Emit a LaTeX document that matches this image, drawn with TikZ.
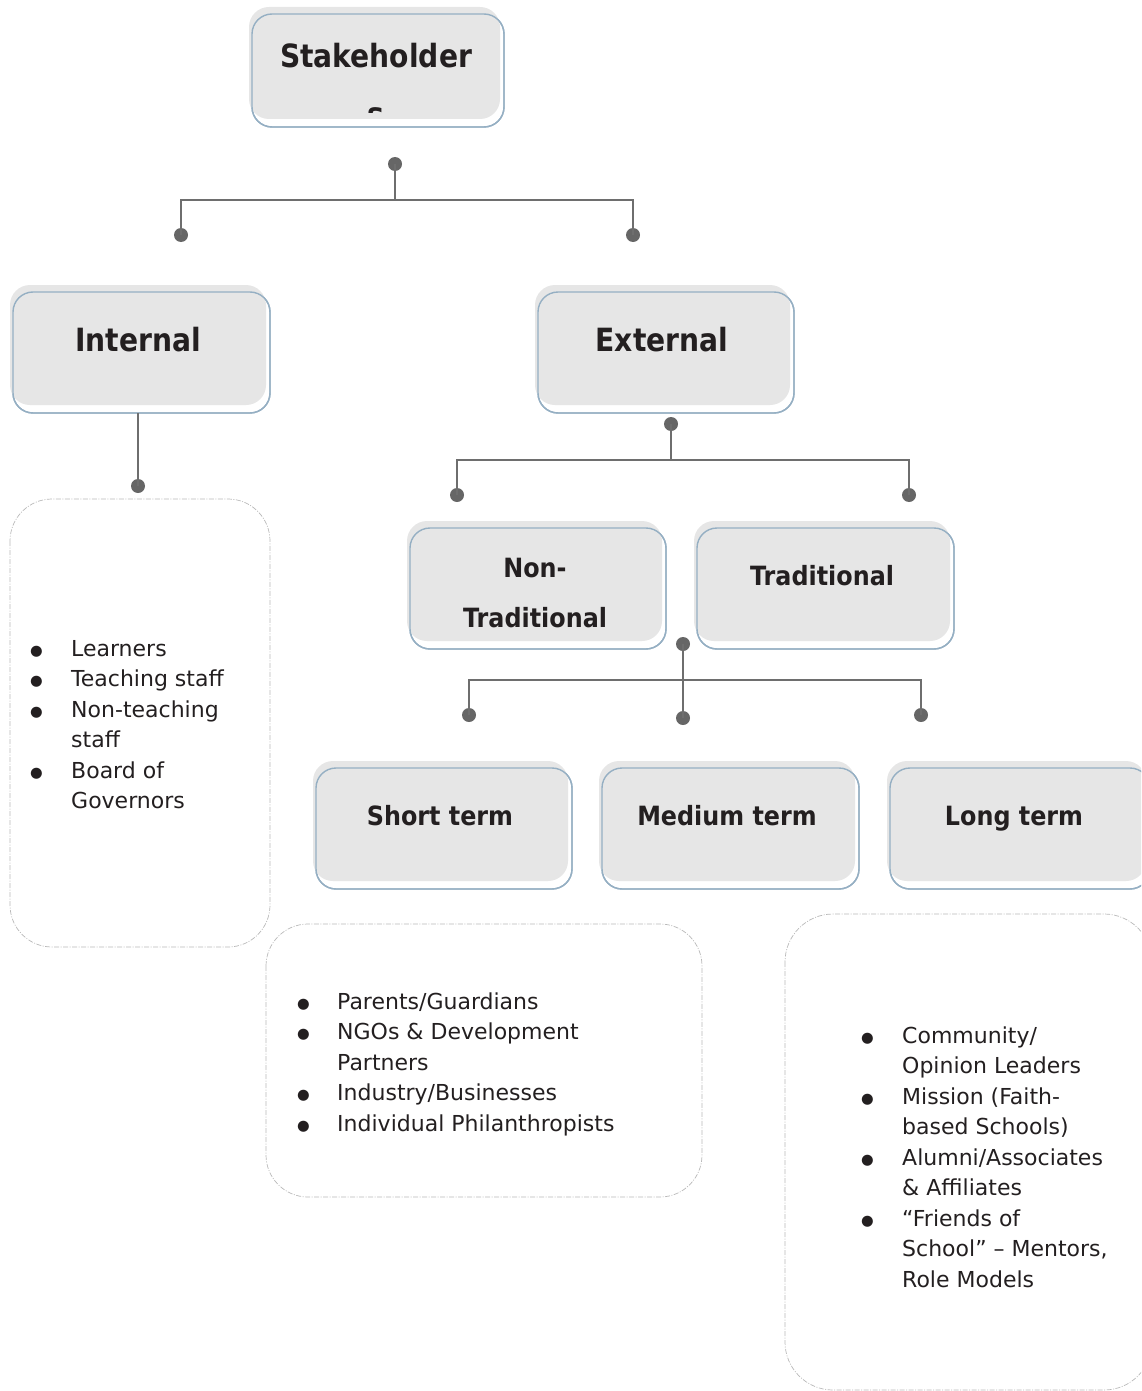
\documentclass[tikz,border=0pt]{standalone}
\usepackage{fontspec}
\setmainfont{DejaVu Sans}
\newfontfamily\headfont[FakeStretch=0.88]{DejaVu Sans}
\newfontfamily\subheadfont[FakeStretch=0.9]{DejaVu Sans}
\definecolor{boxgray}{HTML}{E6E6E6}
\definecolor{bordercol}{HTML}{95AFC3}
\definecolor{linegray}{HTML}{6E6E6E}
\definecolor{dotgray}{HTML}{666666}
\definecolor{dashgray}{HTML}{B8B8B8}
\definecolor{txt}{HTML}{231F20}
\newcommand\stkbox[4]{%
  \filldraw[fill=white, draw=bordercol, line width=1.4pt, rounded corners=20pt] (#1,#2) rectangle (#3,#4);
  \fill[boxgray, rounded corners=20pt] ({#1-3},{#2-7}) rectangle ({#3-4},{#4-8});
  \draw[bordercol, line width=1.4pt, rounded corners=20pt] (#1,#2) rectangle (#3,#4);
}
\tikzset{
  conn/.style={draw=linegray, line width=1.1pt},
  dotn/.style={circle, fill=dotgray, inner sep=0pt, minimum size=14pt},
  listbox/.style={draw=dashgray, dash pattern=on 5pt off 1.5pt on 1pt off 1.5pt, line width=0.7pt, rounded corners=42pt},
  bighead/.style={anchor=base, inner sep=0pt, text=txt, font=\headfont\fontsize{32}{58}\selectfont\bfseries},
  smallhead/.style={anchor=base, inner sep=0pt, text=txt, font=\subheadfont\fontsize{26.5}{50}\selectfont\bfseries},
  listtext/.style={anchor=base west, inner sep=0pt, text=txt, font=\fontsize{22}{30.5}\selectfont},
}
\newcommand\blt{\raisebox{1pt}{\fontsize{14.5}{14.5}\selectfont ●}}
\begin{document}
\begin{tikzpicture}[x=1pt,y=-1pt]
\useasboundingbox (0,0) rectangle (1141,1391);
\clip (0,0) rectangle (1141,1391);
% boxes
\stkbox{252}{14}{504}{127}
\stkbox{13}{292}{270}{413}
\stkbox{538}{292}{794}{413}
\stkbox{410}{528}{666}{649}
\stkbox{697}{528}{954}{649}
\stkbox{316}{768}{572}{889}
\stkbox{602}{768}{859}{889}
\stkbox{890}{768}{1150}{889}
% headings
\node[bighead] (stake) at (376,68) {Stakeholder};
\begin{scope}
\clip (250,90) rectangle (510,113);
\node[bighead] (stakes) at (376,126) {s};
\end{scope}
\node[bighead] (internal) at (138,351) {Internal};
\node[bighead] (external) at (662,351) {External};
\node[smallhead] (nontrad1) at (535,577) {Non-};
\node[smallhead] (nontrad2) at (535,627) {Traditional};
\node[smallhead] (trad) at (822,585) {Traditional};
\node[smallhead] (short) at (440,825) {Short term};
\node[smallhead] (medium) at (727,825) {Medium term};
\node[smallhead] (long) at (1014,825) {Long term};
% connectors
\coordinate (ibot) at (138,413);
\node[dotn] (d0) at (395,164) {};
\node[dotn] (d1) at (181,235) {};
\node[dotn] (d2) at (633,235) {};
\draw[conn] (d0.center) -- (395,200) -| (d1.center);
\draw[conn] (395,200) -| (d2.center);
\node[dotn] (d3) at (138,486) {};
\draw[conn] (ibot) -- (d3.center);
\node[dotn] (d4) at (671,424) {};
\node[dotn] (d5) at (457,495) {};
\node[dotn] (d6) at (909,495) {};
\draw[conn] (d4.center) -- (671,460) -| (d5.center);
\draw[conn] (671,460) -| (d6.center);
\node[dotn] (d7) at (683,644) {};
\node[dotn] (d8) at (469,715) {};
\node[dotn] (d9) at (683,718) {};
\node[dotn] (d10) at (921,715) {};
\draw[conn] (d7.center) -- (d9.center);
\draw[conn] (d8.center) |- (683,680) -| (d10.center);
% list boxes
\draw[listbox] (10,499) rectangle (270,947);
\draw[listbox] (266,924) rectangle (702,1197);
\draw[listbox, rounded corners=48pt] (785,914) rectangle (1152,1390);
% lists
\node[listtext] (list1) at (30,656) {\begin{tabular}[t]{@{}p{41pt}@{}l@{}}
\blt & Learners\\
\blt & Teaching staff\\
\blt & Non-teaching\\
 & staff\\
\blt & Board of\\
 & Governors
\end{tabular}};
\node[listtext] (list2) at (297,1009) {\begin{tabular}[t]{@{}p{40pt}@{}l@{}}
\blt & Parents/Guardians\\
\blt & NGOs \& Development\\
 & Partners\\
\blt & Industry/Businesses\\
\blt & Individual Philanthropists
\end{tabular}};
\node[listtext] (list3) at (861,1043) {\begin{tabular}[t]{@{}p{41pt}@{}l@{}}
\blt & Community/\\
 & Opinion Leaders\\
\blt & Mission (Faith-\\
 & based Schools)\\
\blt & Alumni/Associates\\
 & \& Affiliates\\
\blt & “Friends of\\
 & School” – Mentors,\\
 & Role Models
\end{tabular}};
\end{tikzpicture}
\end{document}
